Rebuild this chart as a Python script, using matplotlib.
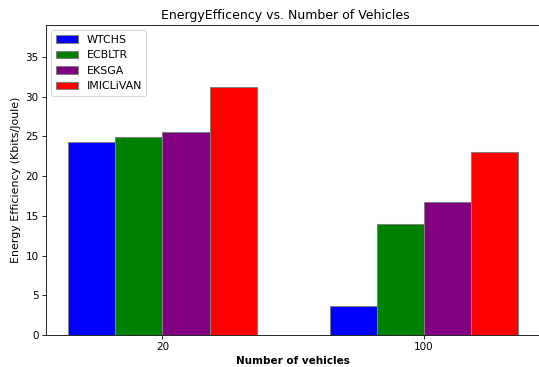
import numpy as np
import matplotlib.pyplot as plt

categories = ['20', '100']
series = ['WTCHS', 'ECBLTR', 'EKSGA', 'IMICLiVAN']
wtchs = [24.3, 3.7]
ecbltr = [24.9, 14.0]
eksga = [25.6, 16.7]
imiclivan = [31.2, 23.0]
colors = ['blue', 'green', 'purple', 'red']

values = [wtchs, ecbltr, eksga, imiclivan]
x = np.arange(len(categories))
width = 0.18

# small dpi so the default font sizes come out like the reference
fig = plt.figure(figsize=(539 / 75, 367 / 75), dpi=75)
ax = fig.add_axes([0.0853, 0.0872, 0.917, 0.8447])

for i, (name, vals) in enumerate(zip(series, values)):
    ax.bar(x + (i - 1.5) * width, vals, width, color=colors[i],
           edgecolor='grey', label=name)

ax.set_xticks(x)
ax.set_xticklabels(categories)
ax.set_ylim(0, 39)
ax.set_xlabel('Number of vehicles', fontweight='bold')
ax.set_ylabel('Energy Efficiency (Kbits/Joule)', fontsize=10.5)
ax.set_title('EnergyEfficency vs. Number of Vehicles', x=0.484)
ax.legend(loc='upper left', fontsize=10.5)

fig.savefig('out.png', dpi=75)
